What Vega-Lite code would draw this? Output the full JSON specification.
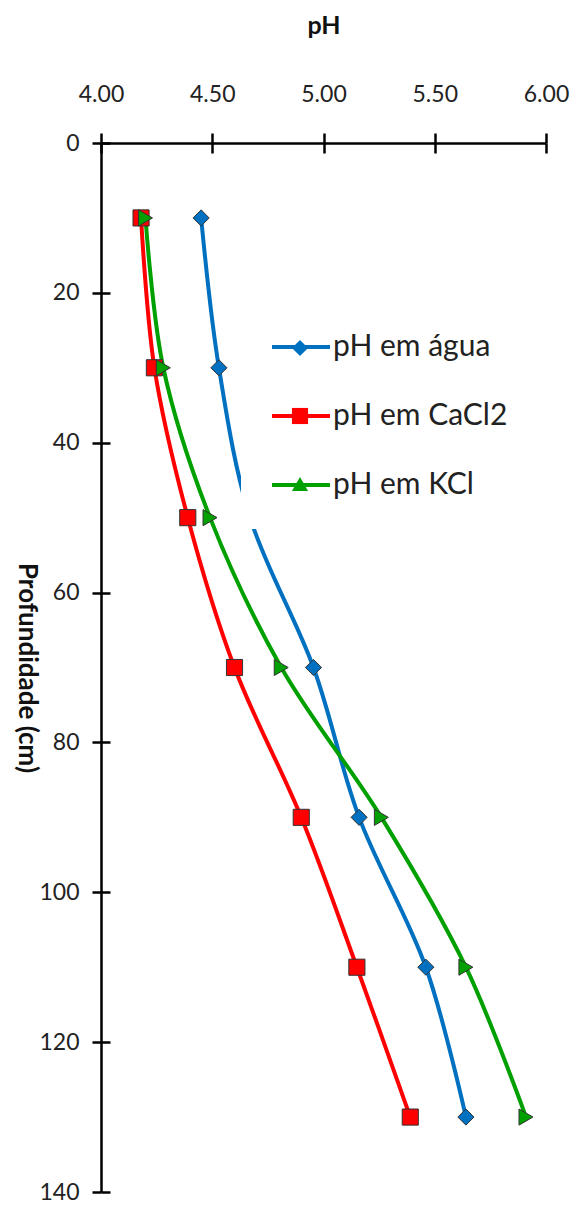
{
  "$schema": "https://vega.github.io/schema/vega-lite/v6.json",
  "width": 445,
  "height": 1049,
  "autosize": {"type": "none"},
  "padding": {"left": 101, "top": 143, "right": 26, "bottom": 15},
  "background": "white",
  "config": {"view": {"stroke": null}, "font": "Lato", "axis": {"grid": false}},
  "data": {
    "values": [
      {"series": "pH em água", "depth": 10, "pH": 4.45},
      {"series": "pH em água", "depth": 30, "pH": 4.53},
      {"series": "pH em água", "depth": 50, "pH": 4.67},
      {"series": "pH em água", "depth": 70, "pH": 4.955},
      {"series": "pH em água", "depth": 90, "pH": 5.16},
      {"series": "pH em água", "depth": 110, "pH": 5.46},
      {"series": "pH em água", "depth": 130, "pH": 5.64},
      {"series": "pH em CaCl2", "depth": 10, "pH": 4.18},
      {"series": "pH em CaCl2", "depth": 30, "pH": 4.24},
      {"series": "pH em CaCl2", "depth": 50, "pH": 4.39},
      {"series": "pH em CaCl2", "depth": 70, "pH": 4.6},
      {"series": "pH em CaCl2", "depth": 90, "pH": 4.9},
      {"series": "pH em CaCl2", "depth": 110, "pH": 5.15},
      {"series": "pH em CaCl2", "depth": 130, "pH": 5.39},
      {"series": "pH em KCl", "depth": 10, "pH": 4.2},
      {"series": "pH em KCl", "depth": 30, "pH": 4.28},
      {"series": "pH em KCl", "depth": 50, "pH": 4.49},
      {"series": "pH em KCl", "depth": 70, "pH": 4.81},
      {"series": "pH em KCl", "depth": 90, "pH": 5.26},
      {"series": "pH em KCl", "depth": 110, "pH": 5.64},
      {"series": "pH em KCl", "depth": 130, "pH": 5.91}
    ]
  },
  "layer": [
    {
      "mark": {"type": "line", "interpolate": "catmull-rom", "strokeWidth": 4},
      "encoding": {
        "x": {
          "field": "pH", "type": "quantitative",
          "scale": {"domain": [4, 6], "nice": false, "zero": false},
          "axis": {
            "orient": "top", "values": [4, 4.5, 5, 5.5, 6], "format": ".2f", "labelFlush": false,
            "title": "pH", "titleFontSize": 25, "titleFontWeight": "bold", "titleColor": "#111",
            "titleY": -110, "titleBaseline": "alphabetic",
            "labelFontSize": 23, "labelColor": "#222", "labelPadding": 27,
            "tickSize": 10, "tickWidth": 2.5, "tickColor": "black",
            "domainColor": "black", "domainWidth": 2.5
          }
        },
        "y": {
          "field": "depth", "type": "quantitative",
          "scale": {"domain": [0, 140], "reverse": true, "nice": false, "zero": false},
          "axis": {
            "orient": "left", "values": [0, 20, 40, 60, 80, 100, 120, 140], "format": "d", "labelFlush": false,
            "title": "Profundidade (cm)", "titleFontSize": 26, "titleFontWeight": "bold", "titleColor": "#111",
            "titleAngle": 90, "titleX": -75, "titleY": 524.5, "titleAlign": "center", "titleBaseline": "middle",
            "labelFontSize": 23, "labelColor": "#222", "labelPadding": 13,
            "tickSize": 9, "tickWidth": 2.5, "tickColor": "black",
            "domainColor": "black", "domainWidth": 2.5
          }
        },
        "stroke": {
          "field": "series", "type": "nominal",
          "sort": ["pH em água", "pH em CaCl2", "pH em KCl"],
          "scale": {"range": ["#0070C0", "#FF0000", "#00A000"]},
          "legend": {
            "title": null, "orient": "none", "legendX": 140, "legendY": 144,
            "padding": 29, "fillColor": "white",
            "symbolType": "stroke", "symbolSize": 3364, "symbolStrokeWidth": 4,
            "labelFontSize": 30, "labelColor": "#222", "labelOffset": 1, "labelLimit": 400,
            "rowPadding": 23
          }
        },
        "order": {"field": "depth", "type": "quantitative"}
      }
    },
    {
      "mark": {"type": "point", "filled": true, "size": 260, "stroke": "#333", "strokeWidth": 1, "opacity": 1},
      "encoding": {
        "x": {
          "field": "pH", "type": "quantitative",
          "scale": {"domain": [4, 6], "nice": false, "zero": false},
          "axis": {
            "orient": "top", "values": [4, 4.5, 5, 5.5, 6], "labels": false, "domain": false, "title": null,
            "tickSize": -10, "tickWidth": 2.5, "tickColor": "black"
          }
        },
        "y": {
          "field": "depth", "type": "quantitative",
          "scale": {"domain": [0, 140], "reverse": true, "nice": false, "zero": false},
          "axis": {
            "orient": "left", "values": [0, 20, 40, 60, 80, 100, 120, 140], "labels": false, "domain": false, "title": null,
            "tickSize": -9, "tickWidth": 2.5, "tickColor": "black"
          }
        },
        "angle": {"condition": {"test": "datum.series === 'pH em KCl'", "value": 90}, "value": 0},
        "fill": {
          "field": "series", "type": "nominal",
          "scale": {"domain": ["pH em água", "pH em CaCl2", "pH em KCl"], "range": ["#0070C0", "#FF0000", "#00A000"]},
          "legend": {
            "title": null, "orient": "none", "legendX": 155, "legendY": 161,
            "padding": 29, "symbolSize": 260, "symbolStrokeColor": "#333", "symbolStrokeWidth": 1,
            "labelFontSize": 30, "labelOpacity": 0, "labelExpr": "''", "labelOffset": 0, "labelLimit": 400, "rowPadding": 38
          }
        },
        "shape": {
          "field": "series", "type": "nominal",
          "scale": {"domain": ["pH em água", "pH em CaCl2", "pH em KCl"], "range": ["diamond", "square", "triangle-up"]},
          "legend": {
            "title": null, "orient": "none", "legendX": 155, "legendY": 161,
            "padding": 29, "symbolSize": 260, "symbolStrokeColor": "#333", "symbolStrokeWidth": 1,
            "labelFontSize": 30, "labelOpacity": 0, "labelExpr": "''", "labelOffset": 0, "labelLimit": 400, "rowPadding": 38
          }
        }
      }
    }
  ],
  "resolve": {"axis": {"x": "independent", "y": "independent"}}
}
